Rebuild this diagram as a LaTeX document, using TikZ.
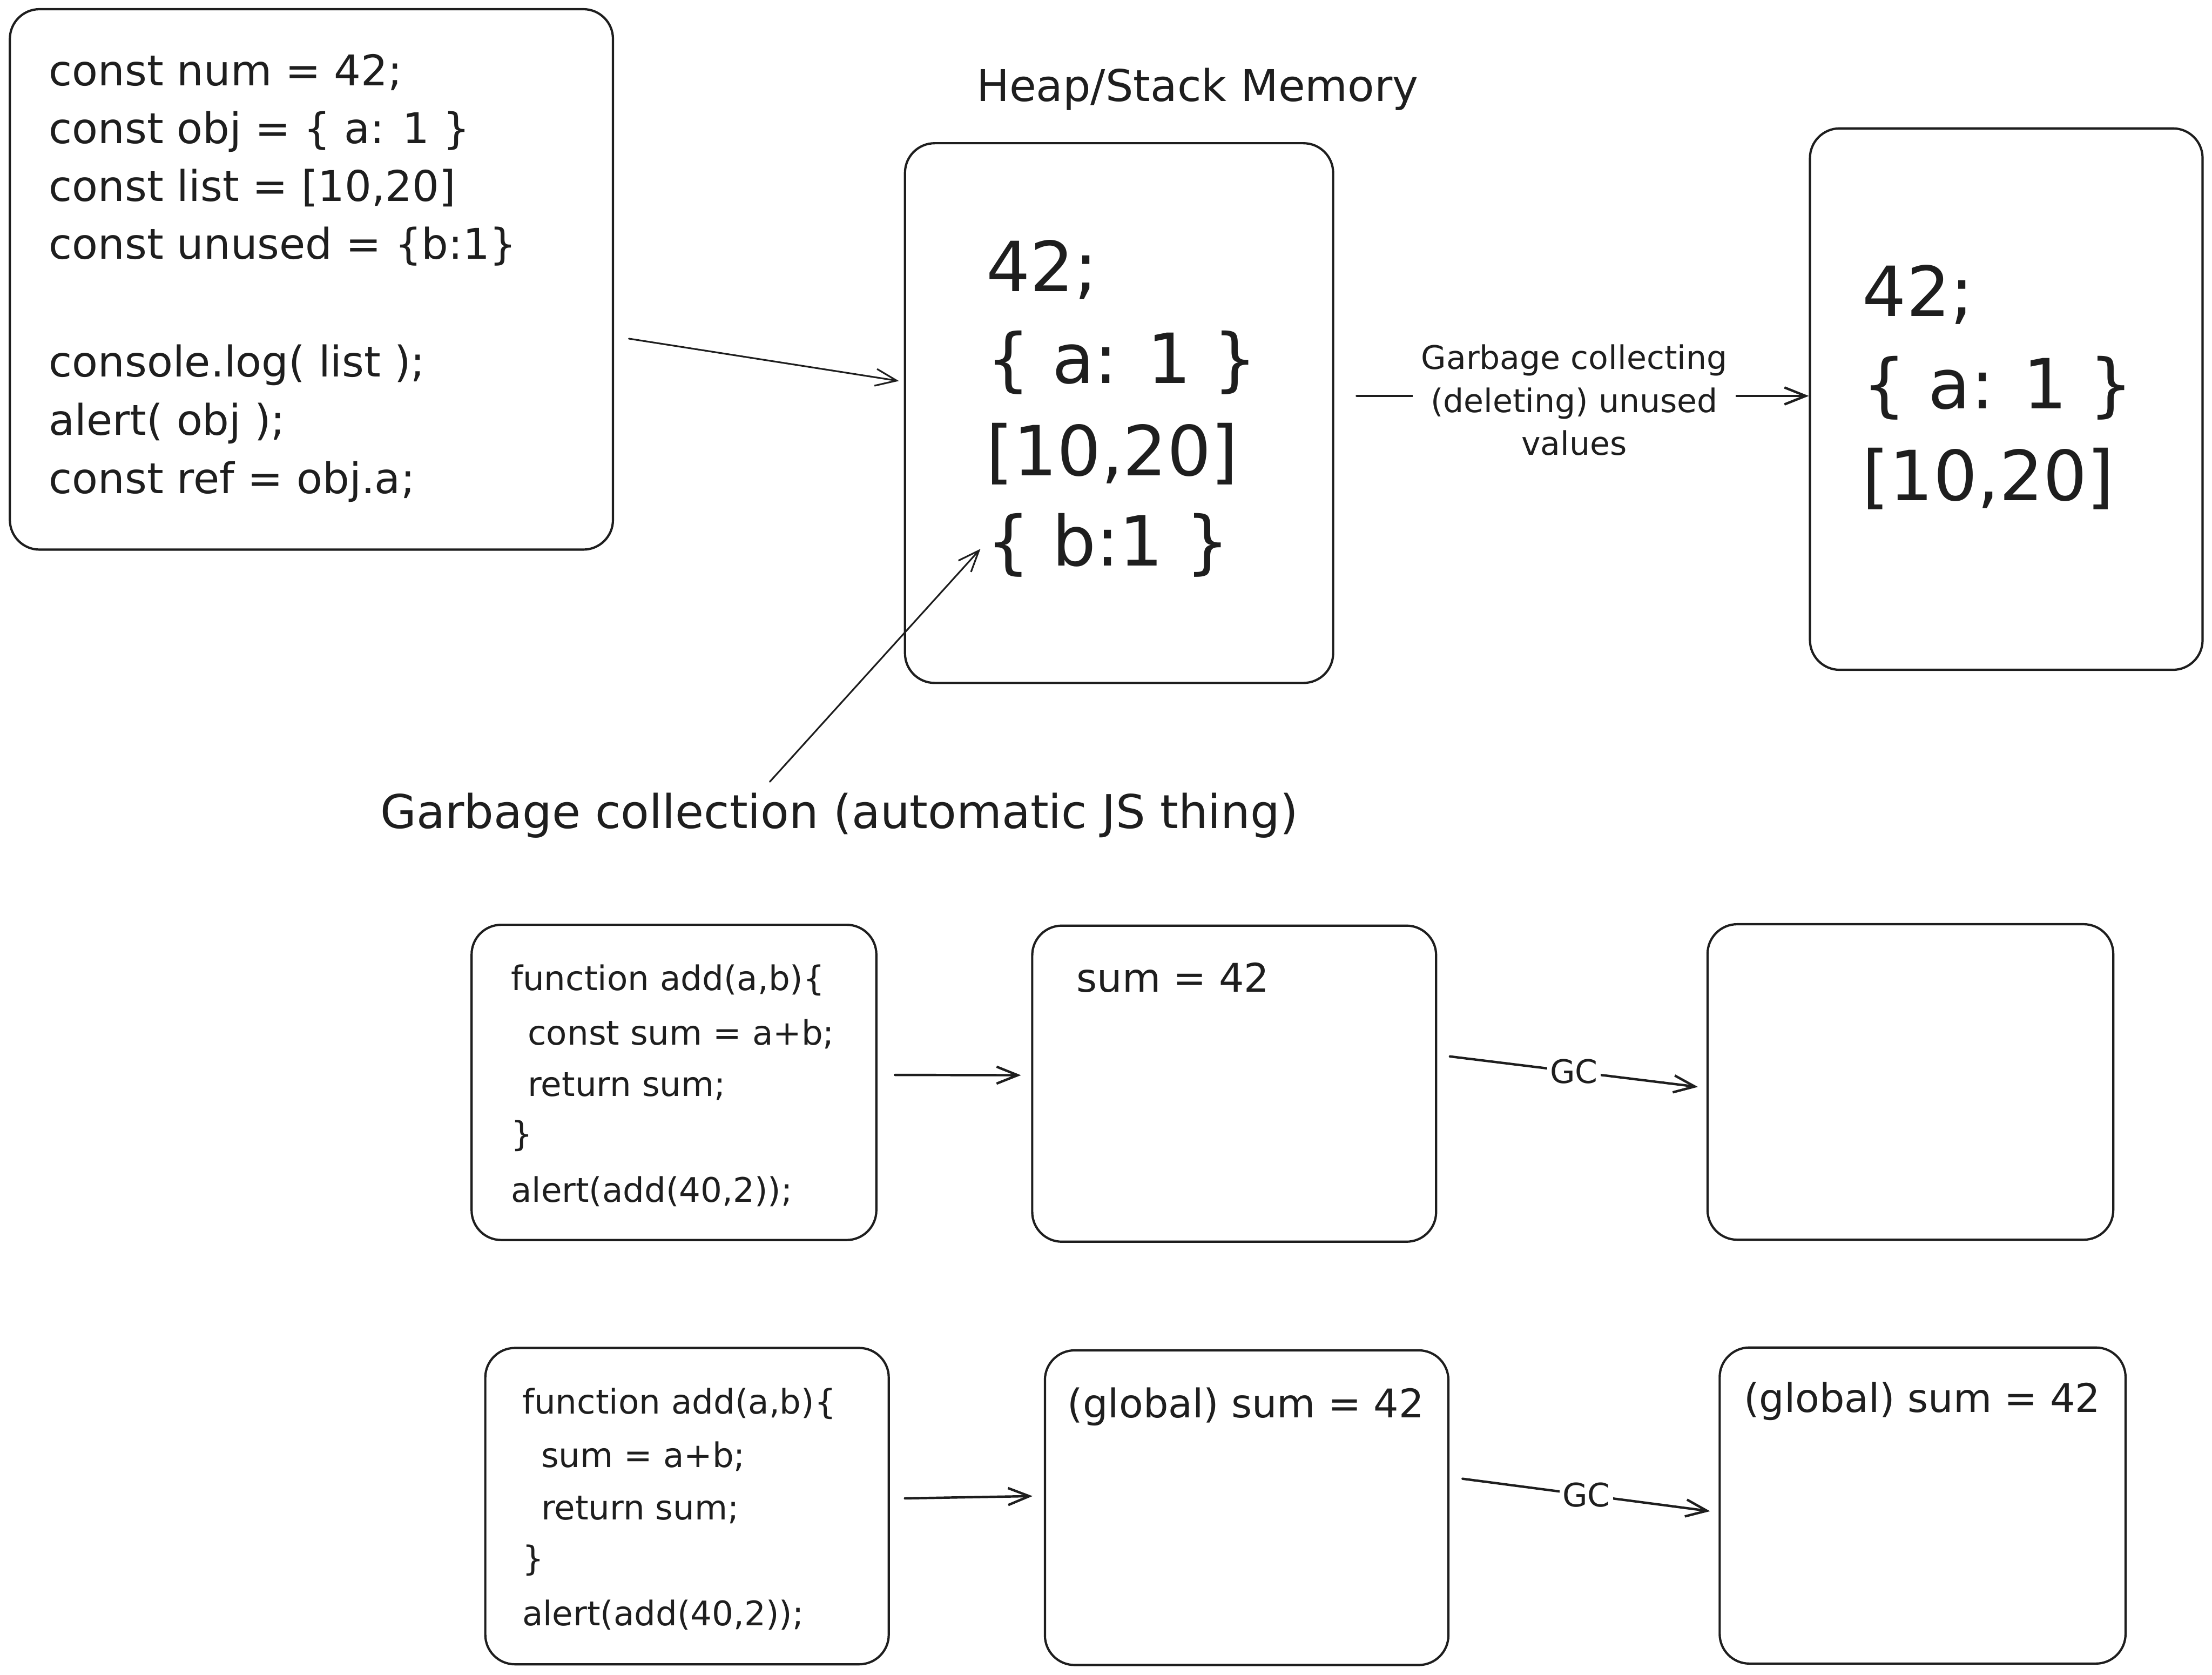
\documentclass[tikz,border=0pt]{standalone}
\usepackage{fontspec}
\setmainfont{DejaVu Sans}
\usetikzlibrary{arrows.meta}
\definecolor{ink}{HTML}{1E1E1E}
\begin{document}
\begin{tikzpicture}[x=1pt,y=1pt,
  box/.style={draw=ink,line width=1.6pt,rounded corners=21pt,inner sep=0pt},
  txt/.style={anchor=base west,inner sep=0pt,text=ink},
  codeA/.style={txt,font=\fontsize{30}{36}\selectfont},
  big/.style={txt,font=\fontsize{49}{60}\selectfont},
  small/.style={txt,font=\fontsize{24}{29}\selectfont},
  mid/.style={txt,font=\fontsize{28}{34}\selectfont},
  link/.style={draw=ink,line width=1.7pt,line cap=round,-{Straight Barb[length=15pt,width=12pt]}},
  thinlink/.style={link,line width=1.2pt},
  lab/.style={fill=white,text=ink,inner xsep=2pt,inner ysep=1pt,font=\fontsize{23}{30.5}\selectfont}]
\fill[white] (0,0) rectangle (1568,-1187);
\useasboundingbox (0,0) rectangle (1568,-1187);

% boxes
\node[box,minimum width=427.5pt,minimum height=383pt] (A) at (220.75,-198) {};
\node[box,minimum width=303.5pt,minimum height=382.5pt] (B) at (793.25,-292.75) {};
\node[box,minimum width=278.3pt,minimum height=383.7pt] (C) at (1422.15,-282.85) {};
\node[box,minimum width=286.9pt,minimum height=223.4pt] (D) at (477.75,-767.1) {};
\node[box,minimum width=286.3pt,minimum height=224pt] (E) at (874.85,-768) {};
\node[box,minimum width=287.6pt,minimum height=223.6pt] (F) at (1354.2,-766.8) {};
\node[box,minimum width=286pt,minimum height=224.2pt] (G) at (487,-1067.4) {};
\node[box,minimum width=286pt,minimum height=223pt] (H) at (883.7,-1068.5) {};
\node[box,minimum width=287.7pt,minimum height=224pt] (I) at (1362.85,-1067) {};

% box A code
\node[codeA] (a1) at (34.5,-60.6) {const num = 42;};
\node[codeA] (a2) at (34.5,-101.5) {const obj = \{ a: 1 \}};
\node[codeA] (a3) at (34.5,-142.5) {const list = [10,20]};
\node[codeA] (a4) at (34.5,-183.5) {const unused = \{b:1\}};
\node[codeA] (a5) at (34.5,-267) {console.log( list );};
\node[codeA] (a6) at (34.5,-308.5) {alert( obj );};
\node[codeA] (a7) at (34.5,-349.6) {const ref = obj.a;};

% title
\node[txt,font=\fontsize{31}{37}\selectfont] (title) at (692,-71.6) {Heap/Stack Memory};

% box B
\node[big] (b1) at (699,-206.5) {42;};
\node[big] (b2) at (699,-271.6) {\{ a: 1 \}};
\node[big] (b3) at (699,-337) {[10,20]};
\node[big] (b4) at (699,-401) {\{ b:1 \}};

% box C
\node[big] (c1) at (1320,-224) {42;};
\node[big] (c2) at (1320,-289.7) {\{ a: 1 \}};
\node[big] (c3) at (1320,-354.8) {[10,20]};

% GC caption
\node[txt,font=\fontsize{33}{40}\selectfont] (gc) at (269.6,-587) {Garbage collection (automatic JS thing)};

% box D
\node[small] (d1) at (362,-702) {function add(a,b)\{};
\node[small] (d2) at (374,-740.6) {const sum = a+b;};
\node[small] (d3) at (374,-777) {return sum;};
\node[small] (d4) at (362,-812) {\}};
\node[small] (d5) at (362,-852) {alert(add(40,2));};

% box E
\node[mid] (e1) at (763,-703.2) {sum = 42};

% box G
\node[small] (g1) at (370,-1002) {function add(a,b)\{};
\node[small] (g2) at (383.5,-1040) {sum = a+b;};
\node[small] (g3) at (383.5,-1077) {return sum;};
\node[small] (g4) at (370,-1113) {\}};
\node[small] (g5) at (370,-1152) {alert(add(40,2));};

% box H, I
\node[mid] (h1) at (756.6,-1004.5) {(global) sum = 42};
\node[mid] (i1) at (1236,-1001) {(global) sum = 42};

% connectors
\draw[thinlink] ([xshift=10.5pt,yshift=-42pt]A.east) -- ([xshift=-3.5pt,yshift=22.75pt]B.west);
\draw[link] ([xshift=16pt,yshift=12.15pt]B.east) -- node[lab,pos=0.481,align=center,yshift=-3pt,inner xsep=6pt] (gclab) {Garbage collecting\\(deleting) unused\\values} ([yshift=2.25pt]C.west);
\draw[thinlink] ([xshift=276.1pt,yshift=33pt]gc.base west) -- ([xshift=-4pt,yshift=12pt]b4.base west);
\draw[link] ([xshift=12.4pt,yshift=5.3pt]D.east) -- ([xshift=-7.2pt,yshift=6pt]E.west);
\draw[link] ([xshift=9pt,yshift=19.3pt]E.east) -- node[lab] (gc1) {GC} ([xshift=-6pt,yshift=-3.5pt]F.west);
\draw[link] ([xshift=10.7pt,yshift=5.5pt]G.east) -- ([xshift=-8pt,yshift=8.2pt]H.west);
\draw[link] ([xshift=9.3pt,yshift=20.5pt]H.east) -- node[lab] (gc2) {GC} ([xshift=-6pt,yshift=-4pt]I.west);
\end{tikzpicture}
\end{document}
